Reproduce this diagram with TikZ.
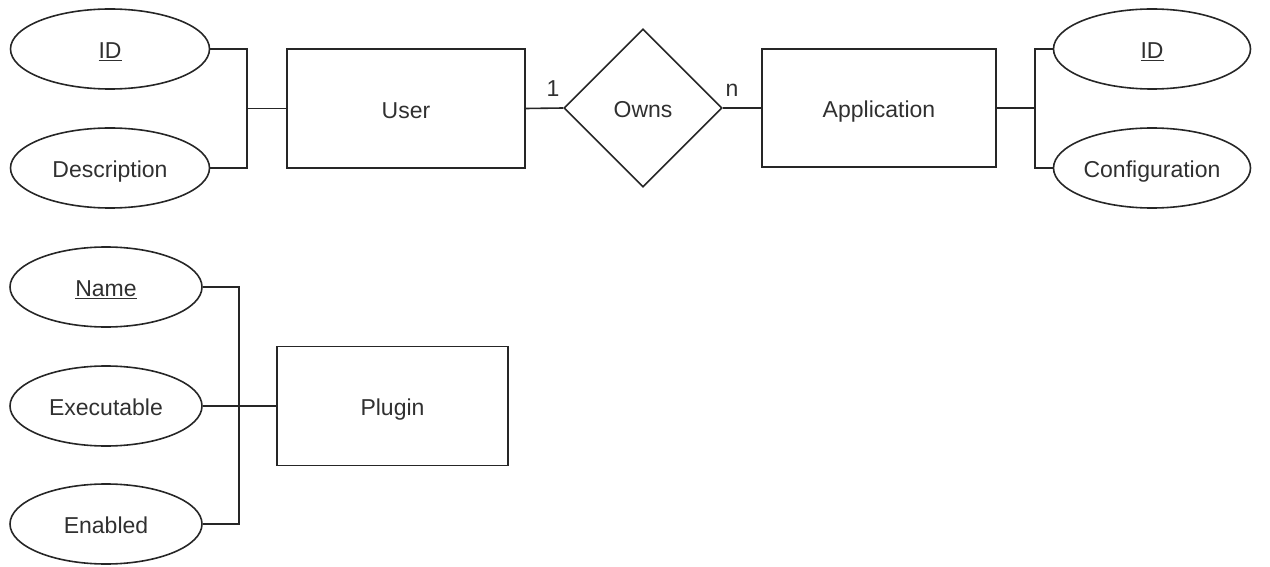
\documentclass[tikz,border=0pt]{standalone}
\usepackage{fontspec}
\setmainfont{Liberation Sans}
\usetikzlibrary{shapes.geometric}
\definecolor{ink}{HTML}{262626}
\definecolor{txt}{HTML}{303030}
\tikzset{
  every node/.style={font=\fontsize{23}{27}\selectfont, text=txt},
  line/.style={draw=ink, line width=1.6pt},
  lbl/.style={text height=19.5pt, text depth=0pt},
  attr/.style={line, ellipse, inner sep=0pt, lbl},
  entity/.style={line, rectangle, inner sep=0pt, lbl},
  rel/.style={line, diamond, inner sep=0pt, minimum width=158pt, minimum height=158pt, lbl},
  card/.style={inner sep=0pt, anchor=base}
}
\begin{document}
\begin{tikzpicture}[x=1pt,y=-1pt]
\useasboundingbox (0,0) rectangle (1270,567);
% top row
\node[attr, minimum width=199pt, minimum height=80pt] (uid) at (110,49) {\underline{ID}};
\node[attr, minimum width=199pt, minimum height=80pt] (udesc) at (110,168) {Description};
\node[entity, minimum width=238pt, minimum height=119pt] (user) at (406,108.5) {User};
\node[rel] (owns) at (643,108) {Owns};
\node[entity, minimum width=234pt, minimum height=118pt] (app) at (879,108) {Application};
\node[attr, minimum width=197pt, minimum height=80pt] (aid) at (1152,49) {\underline{ID}};
\node[attr, minimum width=197pt, minimum height=80pt] (aconf) at (1152,168) {Configuration};
\node[card] (one) at (553,97) {1};
\node[card] (many) at (732,97) {n};
% bottom
\node[attr, minimum width=192pt, minimum height=80pt] (pname) at (106,287) {\underline{Name}};
\node[attr, minimum width=192pt, minimum height=80pt] (pexec) at (106,406) {Executable};
\node[attr, minimum width=192pt, minimum height=80pt] (pen) at (106,524) {Enabled};
\node[entity, minimum width=231pt, minimum height=119pt] (plugin) at (392.5,406) {Plugin};
% junctions
\coordinate (jL) at (247,108.5);
\coordinate (jR) at (1035,108);
\coordinate (jP) at (239,406);
% connectors
\draw[line] (uid.east) -| (jL);
\draw[line] (udesc.east) -| (jL);
\draw[line] (jL) -- (user.west);
\draw[line] (user.east) -- (owns.west);
\draw[line] (owns.east) -- (app.west);
\draw[line] (app.east) -- (jR);
\draw[line] (jR) |- (aid.west);
\draw[line] (jR) |- (aconf.west);
\draw[line] (pname.east) -| (jP);
\draw[line] (pen.east) -| (jP);
\draw[line] (pexec.east) -- (plugin.west);
\end{tikzpicture}
\end{document}
